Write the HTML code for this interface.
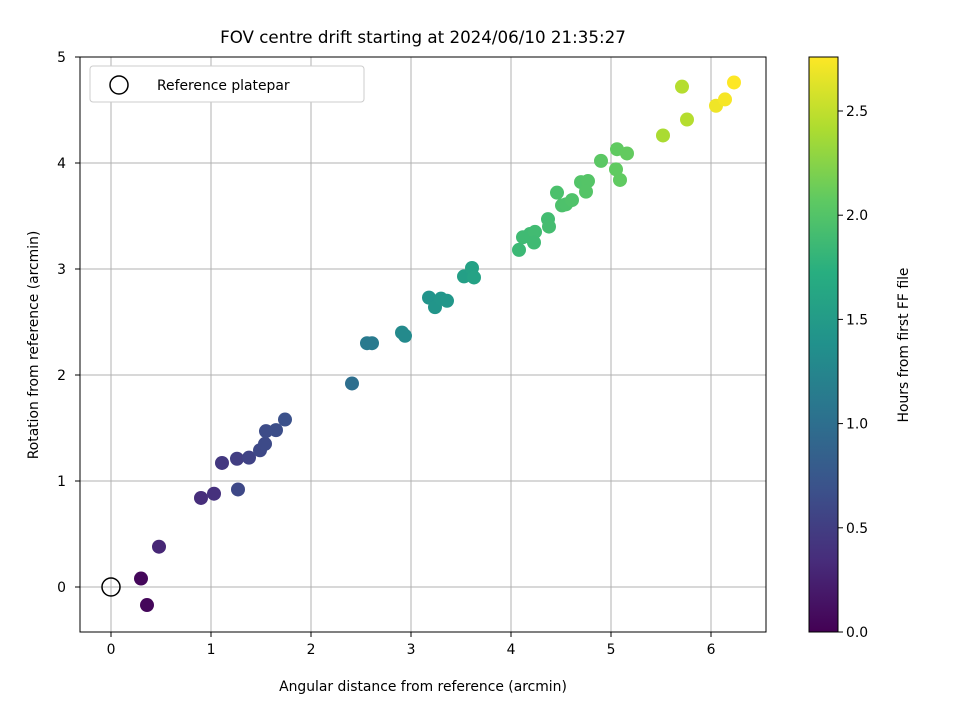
<!DOCTYPE html>
<html><head><meta charset="utf-8"><style>
body{margin:0;background:#fff;font-family:"DejaVu Sans","Liberation Sans",sans-serif}
svg text{font-family:"DejaVu Sans","Liberation Sans",sans-serif;fill:#000}
</style></head><body>
<svg id="chart" width="960" height="720" xmlns="http://www.w3.org/2000/svg">
<text x="423" y="43" font-size="16.7px" text-anchor="middle">FOV centre drift starting at 2024/06/10 21:35:27</text>
<g id="grid"></g>
<g id="points"></g>
<rect x="80" y="57" width="686" height="575" fill="none" stroke="#000" stroke-width="1"/>
<g id="axes"></g>
<text x="423" y="691" font-size="13.9px" text-anchor="middle">Angular distance from reference (arcmin)</text>
<text transform="translate(38,345) rotate(-90)" font-size="13.9px" text-anchor="middle">Rotation from reference (arcmin)</text>
<g>
<rect x="90" y="66" width="274" height="36" rx="3" fill="#fff" stroke="#ccc"/>
<circle cx="119" cy="85" r="9" fill="none" stroke="#000" stroke-width="1.5"/>
<text x="157" y="90" font-size="13.9px">Reference platepar</text>
</g>
<defs><linearGradient id="vir" x1="0" y1="1" x2="0" y2="0">
<stop offset="0" stop-color="#440154"/><stop offset="0.125" stop-color="#472d7b"/><stop offset="0.25" stop-color="#3b528b"/><stop offset="0.375" stop-color="#2c728e"/><stop offset="0.5" stop-color="#21918c"/><stop offset="0.625" stop-color="#28ae80"/><stop offset="0.75" stop-color="#5ec962"/><stop offset="0.875" stop-color="#addc30"/><stop offset="1" stop-color="#fde725"/></linearGradient></defs>
<rect x="809" y="57" width="29" height="575" fill="url(#vir)" stroke="#000" stroke-width="1"/>
<g id="cbar"></g>
<text transform="translate(908,345) rotate(-90)" font-size="13.9px" text-anchor="middle">Hours from first FF file</text>
</svg>
<script>
const xs=[0.30,0.36,0.48,0.90,1.03,1.27,1.11,1.26,1.38,1.49,1.54,1.55,1.65,1.74,2.41,2.56,2.61,2.91,2.94,3.18,3.24,3.30,3.36,3.53,3.61,3.63,4.08,4.12,4.19,4.24,4.23,4.37,4.38,4.46,4.51,4.55,4.61,4.70,4.77,4.75,4.90,5.06,5.16,5.05,5.09,5.52,5.71,5.76,6.05,6.14,6.23];
const ys=[0.08,-0.17,0.38,0.84,0.88,0.92,1.17,1.21,1.22,1.29,1.35,1.47,1.48,1.58,1.92,2.30,2.30,2.40,2.37,2.73,2.64,2.72,2.70,2.93,3.01,2.92,3.18,3.30,3.33,3.35,3.25,3.47,3.40,3.72,3.60,3.61,3.65,3.82,3.83,3.73,4.02,4.13,4.09,3.94,3.84,4.26,4.72,4.41,4.54,4.60,4.76];
const hours=[0.05,0.05,0.30,0.35,0.38,0.60,0.45,0.50,0.55,0.60,0.62,0.63,0.65,0.68,1.00,1.12,1.12,1.30,1.30,1.42,1.43,1.44,1.45,1.55,1.57,1.58,1.85,1.88,1.88,1.89,1.88,1.90,1.91,1.95,1.96,1.97,1.98,2.00,2.01,2.01,2.05,2.08,2.09,2.08,2.08,2.40,2.45,2.45,2.70,2.73,2.76];
const xTicks=[0,1,2,3,4,5,6];
const yTicks=[0,1,2,3,4,5];
const cTicks=["0.0","0.5","1.0","1.5","2.0","2.5"];
const X=v=>111+v*100, Y=v=>587-v*106, C=v=>632-v*208.4;
const ns="http://www.w3.org/2000/svg";
function mk(t,a,p){const e=document.createElementNS(ns,t);for(const k in a)e.setAttribute(k,a[k]);p.appendChild(e);return e;}
const vir=[[68,1,84],[71,45,123],[59,82,139],[44,114,142],[33,145,140],[40,174,128],[94,201,98],[173,220,48],[253,231,37]];
function col(h){let t=Math.max(0,Math.min(1,h/2.76))*8;let i=Math.min(7,Math.floor(t)),f=t-i;const a=vir[i],b=vir[i+1];return `rgb(${a.map((c,j)=>Math.round(c+(b[j]-c)*f)).join(',')})`;}
const g=document.getElementById('grid'),ax=document.getElementById('axes'),pts=document.getElementById('points'),cb=document.getElementById('cbar');
xTicks.forEach(v=>{
 const l=mk('line',{x1:X(v),x2:X(v),y1:57,y2:632,stroke:'#b0b0b0','stroke-width':1},g);
 
 
 mk('line',{x1:X(v),x2:X(v),y1:632,y2:637,stroke:'#000'},ax);
 const t=mk('text',{x:X(v),y:654,'font-size':'13.9px','text-anchor':'middle'},ax);t.textContent=v;
 
 
});
yTicks.forEach(v=>{
 const l=mk('line',{x1:80,x2:766,y1:Y(v),y2:Y(v),stroke:'#b0b0b0','stroke-width':1},g);
 
 
 mk('line',{x1:75,x2:80,y1:Y(v),y2:Y(v),stroke:'#000'},ax);
 const t=mk('text',{x:66,y:Y(v)+5,'font-size':'13.9px','text-anchor':'end'},ax);t.textContent=v;
 
 
});
xs.forEach((x,i)=>{
 const c=mk('circle',{cx:X(x),cy:Y(ys[i]),r:7,fill:col(hours[i])},pts);
 
 
});
const ref=mk('circle',{cx:X(0),cy:Y(0),r:9,fill:'none',stroke:'#000','stroke-width':1.5},pts);


cTicks.forEach(s=>{
 const v=parseFloat(s);
 mk('line',{x1:838,x2:843,y1:C(v),y2:C(v),stroke:'#000'},cb);
 const t=mk('text',{x:846,y:C(v)+5,'font-size':'13.9px'},cb);t.textContent=s;
 
 
});
</script>
</body></html>
